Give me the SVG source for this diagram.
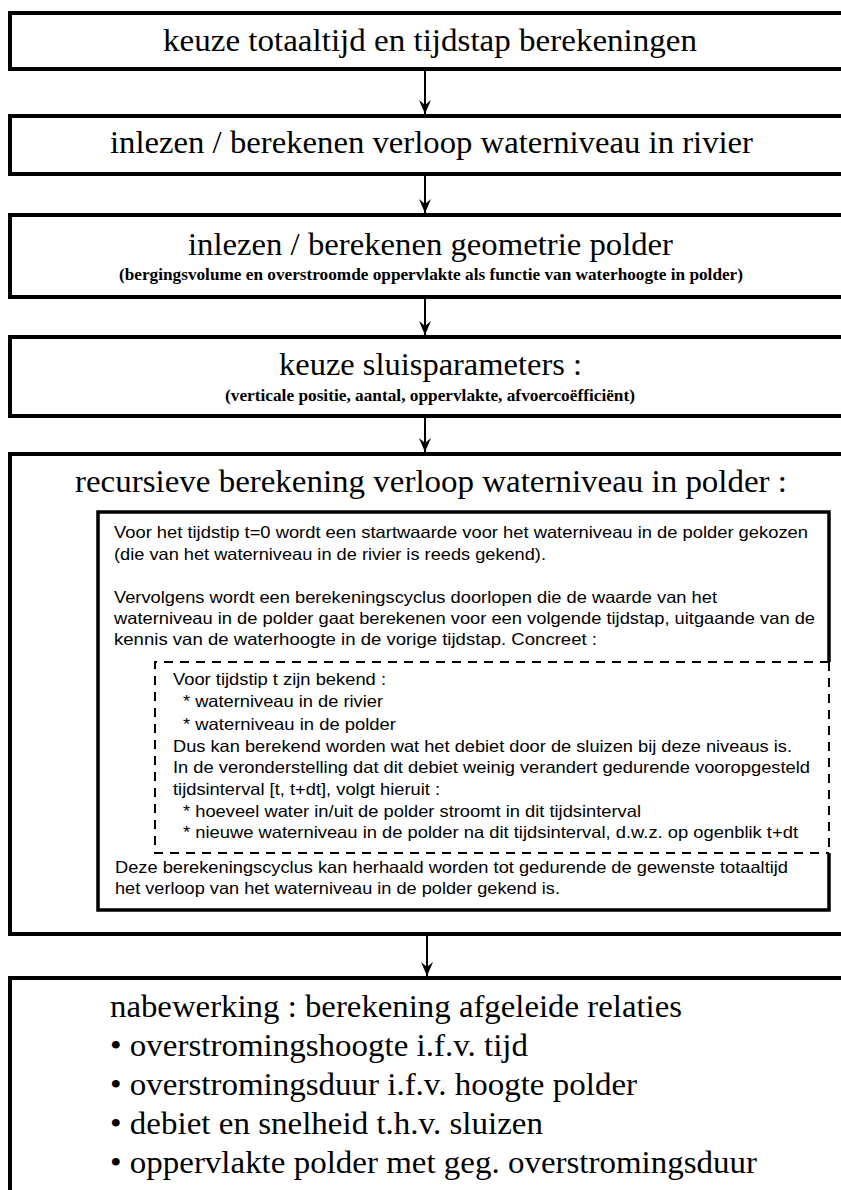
<svg xmlns="http://www.w3.org/2000/svg" width="841" height="1190" viewBox="0 0 841 1190">
<style>
.box{fill:none;stroke:#000;stroke-width:4}
.ibox{fill:none;stroke:#000;stroke-width:3.5}
.dash{fill:none;stroke:#000;stroke-width:2;stroke-dasharray:9 7}
.t{font-family:"Liberation Serif","Times New Roman",serif;font-size:31px;fill:#000}
.s{font-family:"Liberation Serif","Times New Roman",serif;font-size:17px;font-weight:bold;fill:#000}
.b{font-family:"Liberation Serif","Times New Roman",serif;font-size:32px;fill:#000}
.a{font-family:"Liberation Sans",Arial,sans-serif;font-size:16.5px;fill:#000}
.conn{stroke:#000;stroke-width:2;fill:none}
</style>
<defs>
<marker id="ah" markerWidth="12" markerHeight="16" refX="6" refY="14" orient="0" markerUnits="userSpaceOnUse">
<path d="M0,0 L6,14 L12,0 L6,5 Z" fill="#000"/>
</marker>
</defs>
<rect width="841" height="1190" fill="#fff"/>

<g id="n1">
<rect class="box" x="10" y="13" width="850" height="56"/>
<text class="t" x="163" y="51" textLength="534" lengthAdjust="spacingAndGlyphs">keuze totaaltijd en tijdstap berekeningen</text>
</g>

<g id="n2">
<rect class="box" x="10" y="116" width="850" height="58"/>
<text class="t" x="110" y="153" textLength="643" lengthAdjust="spacingAndGlyphs">inlezen / berekenen verloop waterniveau in rivier</text>
</g>

<g id="n3">
<rect class="box" x="10" y="215" width="850" height="82"/>
<text class="t" x="188" y="255" textLength="485" lengthAdjust="spacingAndGlyphs">inlezen / berekenen geometrie polder</text>
<text class="s" x="119" y="280" textLength="624" lengthAdjust="spacingAndGlyphs">(bergingsvolume en overstroomde oppervlakte als functie van waterhoogte in polder)</text>
</g>

<g id="n4">
<rect class="box" x="10" y="337" width="850" height="79"/>
<text class="t" x="279" y="375" textLength="303" lengthAdjust="spacingAndGlyphs">keuze sluisparameters :</text>
<text class="s" x="225" y="401" textLength="410" lengthAdjust="spacingAndGlyphs">(verticale positie, aantal, oppervlakte, afvoercoëfficiënt)</text>
</g>

<g id="n5">
<rect class="box" x="10" y="454" width="850" height="480"/>
<text class="t" x="75" y="492" textLength="712" lengthAdjust="spacingAndGlyphs">recursieve berekening verloop waterniveau in polder :</text>
<g id="n5-inner">
<path class="ibox" d="M829,662 L829,512 L98,512 L98,910 L829,910 L829,853"/>
<path class="dash" d="M829,662 L155,662 L155,853 L829,853 M829,662 L829,853"/>
<text class="a" x="114" y="538" textLength="694" lengthAdjust="spacingAndGlyphs">Voor het tijdstip t=0 wordt een startwaarde voor het waterniveau in de polder gekozen</text>
<text class="a" x="114" y="560" textLength="432" lengthAdjust="spacingAndGlyphs">(die van het waterniveau in de rivier is reeds gekend).</text>
<text class="a" x="114" y="603" textLength="603" lengthAdjust="spacingAndGlyphs">Vervolgens wordt een berekeningscyclus doorlopen die de waarde van het</text>
<text class="a" x="114" y="624" textLength="701" lengthAdjust="spacingAndGlyphs">waterniveau in de polder gaat berekenen voor een volgende tijdstap, uitgaande van de</text>
<text class="a" x="114" y="645" textLength="483" lengthAdjust="spacingAndGlyphs">kennis van de waterhoogte in de vorige tijdstap.  Concreet :</text>
<text class="a" x="173" y="685" textLength="213" lengthAdjust="spacingAndGlyphs">Voor tijdstip t zijn bekend :</text>
<text class="a" x="183" y="707" textLength="200" lengthAdjust="spacingAndGlyphs">* waterniveau in de rivier</text>
<text class="a" x="183" y="730" textLength="213" lengthAdjust="spacingAndGlyphs">* waterniveau in de polder</text>
<text class="a" x="173" y="752" textLength="619" lengthAdjust="spacingAndGlyphs">Dus kan berekend worden wat het debiet door de sluizen bij deze niveaus is.</text>
<text class="a" x="173" y="773" textLength="637" lengthAdjust="spacingAndGlyphs">In de veronderstelling dat dit debiet weinig verandert gedurende vooropgesteld</text>
<text class="a" x="173" y="795" textLength="267" lengthAdjust="spacingAndGlyphs">tijdsinterval [t, t+dt], volgt hieruit :</text>
<text class="a" x="183" y="817" textLength="458" lengthAdjust="spacingAndGlyphs">* hoeveel water in/uit de polder stroomt in dit tijdsinterval</text>
<text class="a" x="183" y="838" textLength="615" lengthAdjust="spacingAndGlyphs">* nieuwe waterniveau in de polder na dit tijdsinterval, d.w.z. op ogenblik t+dt</text>
<text class="a" x="115" y="873" textLength="673" lengthAdjust="spacingAndGlyphs">Deze berekeningscyclus kan herhaald worden tot gedurende de gewenste totaaltijd</text>
<text class="a" x="115" y="894" textLength="445" lengthAdjust="spacingAndGlyphs">het verloop van het waterniveau in de polder gekend is.</text>
</g>
</g>

<g id="n6">
<rect class="box" x="10" y="978" width="850" height="240"/>
<text class="b" x="110" y="1017" textLength="572" lengthAdjust="spacingAndGlyphs">nabewerking : berekening afgeleide relaties</text>
<text class="b" x="110" y="1056" textLength="418" lengthAdjust="spacingAndGlyphs">• overstromingshoogte i.f.v. tijd</text>
<text class="b" x="110" y="1095" textLength="527" lengthAdjust="spacingAndGlyphs">• overstromingsduur i.f.v. hoogte polder</text>
<text class="b" x="110" y="1134" textLength="433" lengthAdjust="spacingAndGlyphs">• debiet en snelheid t.h.v. sluizen</text>
<text class="b" x="110" y="1173" textLength="647" lengthAdjust="spacingAndGlyphs">• oppervlakte polder met geg. overstromingsduur</text>
</g>

<g id="connectors">
<line class="conn" x1="425" y1="71" x2="425" y2="114" marker-end="url(#ah)"/>
<line class="conn" x1="425" y1="176" x2="425" y2="213" marker-end="url(#ah)"/>
<line class="conn" x1="425" y1="299" x2="425" y2="335" marker-end="url(#ah)"/>
<line class="conn" x1="425" y1="418" x2="425" y2="452" marker-end="url(#ah)"/>
<line class="conn" x1="427" y1="936" x2="427" y2="976" marker-end="url(#ah)"/>
</g>
</svg>
